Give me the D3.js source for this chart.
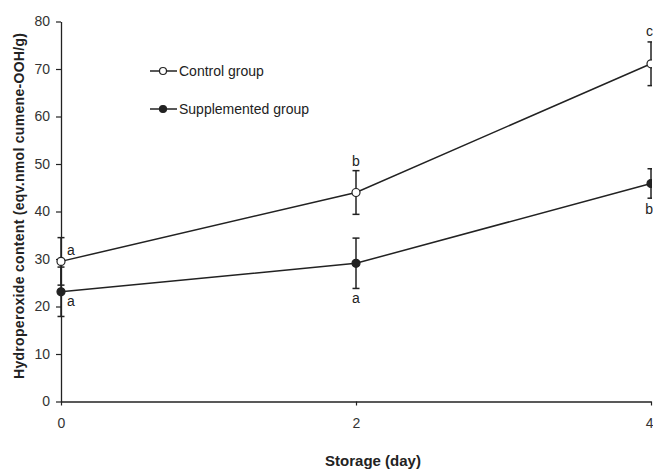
<!DOCTYPE html>
<html><head><meta charset="utf-8">
<script src="https://cdn.jsdelivr.net/npm/d3@7"></script>
<style>body{margin:0;background:#fff}svg{display:block;font-family:"Liberation Sans",Arial,sans-serif}</style>
</head><body><svg id="c" width="653" height="469"></svg>
<script>
const days = [0, 2, 4];
const controlMean = [29.5, 44.0, 71.1];
const controlErr = [5.0, 4.6, 4.6];
const controlLetters = ["a", "b", "c"];
const suppMean = [23.1, 29.1, 45.9];
const suppErr = [5.2, 5.3, 3.1];
const suppLetters = ["a", "a", "b"];
const yTicks = [0, 10, 20, 30, 40, 50, 60, 70, 80];
const xTicks = [0, 2, 4];

const svg = d3.select("#c");
const x = d3.scaleLinear().domain([0, 4]).range([61, 651]);
const y = d3.scaleLinear().domain([0, 80]).range([401.5, 21.5]);
const ink = "#222";
const fam = "Liberation Sans, Arial, sans-serif";

svg.append("defs").append("clipPath").attr("id","clip")
  .append("rect").attr("x",0).attr("y",0).attr("width",652).attr("height",469);

const yAx = svg.append("g").attr("transform","translate(61,0)")
  .call(d3.axisLeft(y).tickValues(yTicks).tickFormat(d3.format("d")).tickSize(5).tickPadding(6).tickSizeOuter(0));
const xAx = svg.append("g").attr("transform","translate(0,401.5)")
  .call(d3.axisBottom(x).tickValues(xTicks).tickFormat(d3.format("d")).tickSize(4).tickPadding(13).tickSizeOuter(0));
[yAx, xAx].forEach(g=>{
  g.select(".domain").attr("stroke",ink).attr("stroke-width",1.3);
  g.selectAll(".tick line").attr("stroke",ink).attr("stroke-width",1.2);
  g.selectAll(".tick text").attr("fill","#333").attr("font-size",14).attr("font-family",fam);
});
// keep the last x tick label inside the page
xAx.selectAll(".tick text").filter(d=>d===4).attr("text-anchor","end").attr("x",2);

svg.append("text").attr("x",373).attr("y",466).attr("text-anchor","middle")
  .attr("font-size",15).attr("font-weight","bold").attr("fill",ink).text("Storage (day)");
svg.append("text").attr("transform","translate(24,206) rotate(-90)").attr("text-anchor","middle")
  .attr("font-size",14).attr("font-weight","bold").attr("fill",ink)
  .attr("textLength",346).attr("lengthAdjust","spacing")
  .text("Hydroperoxide content  (eqv.nmol cumene-OOH/g)");

const plot = svg.append("g").attr("clip-path","url(#clip)");
const line = d3.line().x(d=>x(d[0])).y(d=>y(d[1]));

function series(means, errs, fill){
  const pts = days.map((d,i)=>[d, means[i], errs[i]]);
  plot.append("path").datum(pts).attr("d",line).attr("fill","none").attr("stroke",ink).attr("stroke-width",1.5);
  const eb = plot.append("g");
  pts.forEach(p=>{
    const cx = x(p[0]);
    eb.append("line").attr("x1",cx).attr("x2",cx).attr("y1",y(p[1]+p[2])).attr("y2",y(p[1]-p[2])).attr("stroke",ink).attr("stroke-width",1.5);
    [p[1]+p[2], p[1]-p[2]].forEach(v=>{
      eb.append("line").attr("x1",cx-3.5).attr("x2",cx+3.5).attr("y1",y(v)).attr("y2",y(v)).attr("stroke",ink).attr("stroke-width",1.5);
    });
  });
  plot.selectAll(null).data(pts).enter().append("circle")
    .attr("cx",d=>x(d[0])).attr("cy",d=>y(d[1])).attr("r",4)
    .attr("fill",fill).attr("stroke",ink).attr("stroke-width",1.2);
}
series(controlMean, controlErr, "#fff");
series(suppMean, suppErr, ink);

// significance letters
const lab = svg.append("g").attr("font-size",14).attr("fill",ink);
const letterPos = [
  {t:controlLetters[0], dx:x(0)+10, dy:y(controlMean[0])-6, a:"middle"},
  {t:suppLetters[0], dx:x(0)+10, dy:y(suppMean[0])+14, a:"middle"},
  {t:controlLetters[1], dx:x(2), dy:y(controlMean[1]+controlErr[1])-5, a:"middle"},
  {t:suppLetters[1], dx:x(2), dy:y(suppMean[1]-suppErr[1])+15, a:"middle"},
  {t:controlLetters[2], dx:653, dy:y(controlMean[2]+controlErr[2])-6, a:"end"},
  {t:suppLetters[2], dx:653, dy:y(suppMean[2]-suppErr[2])+16, a:"end"}
];
letterPos.forEach(p=>lab.append("text").attr("x",p.dx).attr("y",p.dy).attr("text-anchor",p.a).text(p.t));

// legend
const legend = [{name:"Control group", fill:"#fff", yy:71},{name:"Supplemented group", fill:ink, yy:109}];
legend.forEach(l=>{
  const g = svg.append("g");
  g.append("line").attr("x1",150).attr("x2",177).attr("y1",l.yy).attr("y2",l.yy).attr("stroke",ink).attr("stroke-width",1.5);
  g.append("circle").attr("cx",163).attr("cy",l.yy).attr("r",3.5).attr("fill",l.fill).attr("stroke",ink).attr("stroke-width",1.2);
  g.append("text").attr("x",179).attr("y",l.yy+5).attr("font-size",14).attr("fill",ink).text(l.name);
});
</script></body></html>
